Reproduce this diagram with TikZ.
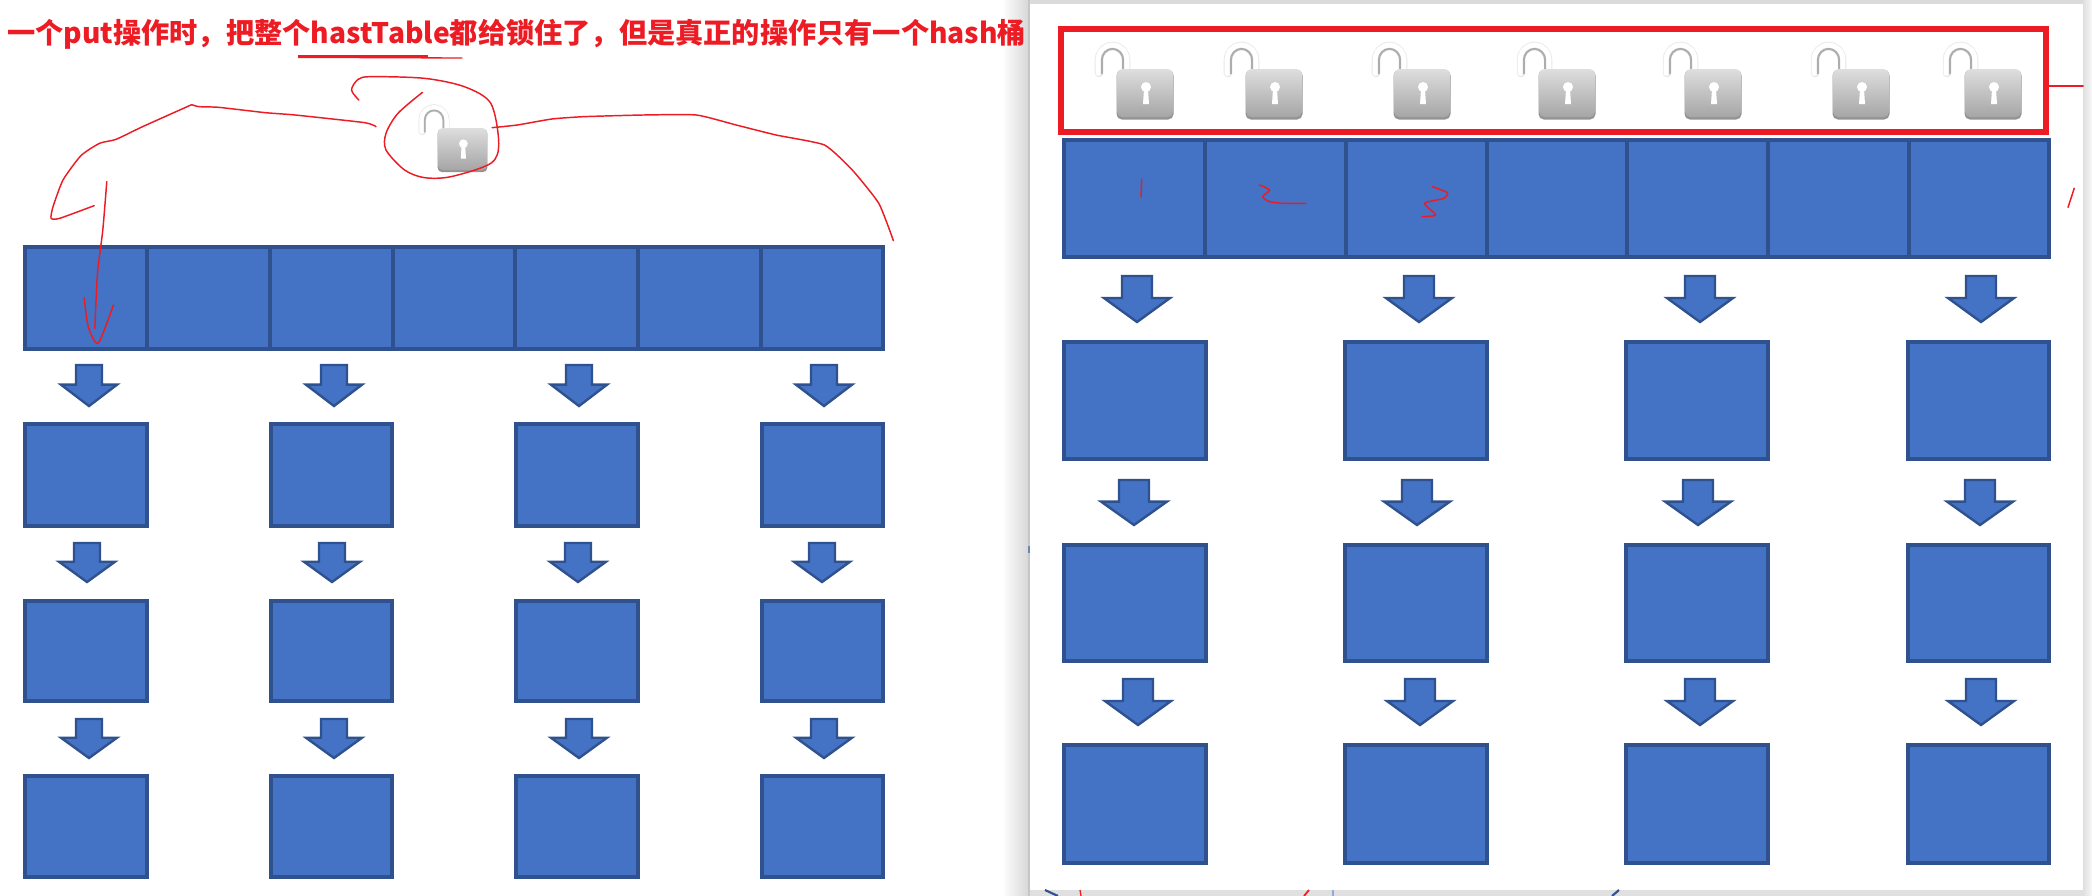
\documentclass[tikz,border=0pt]{standalone}
\usepackage{fontspec}
\newfontfamily\cjk{Noto Sans CJK SC}
\definecolor{boxblue}{HTML}{4472C4}
\definecolor{boxedge}{HTML}{2F528F}
\definecolor{inkred}{HTML}{ED1C24}
\definecolor{paleblue}{HTML}{8FAADC}
\tikzset{
  blockbox/.style={fill=boxblue,draw=boxedge,line width=2.3pt},
  scribble/.style={draw=inkred,line width=1.1pt,line join=round,line cap=round},
}
% block arrow: centre x, top y, tip y, head half width, shaft half width
\newcommand{\blockarrow}[5]{%
  \pgfmathsetmacro{\shoulder}{#2+0.47*(#3-#2)}%
  \draw[blockbox,line width=1.8pt,line join=miter] ({#1-#5},#2+1) -- ({#1+#5},#2+1) -- ({#1+#5},\shoulder) -- ({#1+#4},\shoulder) -- (#1,#3-2) -- ({#1-#4},\shoulder) -- ({#1-#5},\shoulder) -- cycle;}
% padlock: body left, body top, scale
\newcommand{\padlock}[3]{%
  \begin{scope}[shift={(#1,#2)},scale=#3]
    \draw[black!9,line width=#3*6.4pt,line cap=round] (-18,4) -- (-18,-9) arc[start angle=180,end angle=0,x radius=13.5,y radius=-14] -- (9,3);
    \draw[white,line width=#3*4.4pt,line cap=round] (-18.5,4) -- (-18.5,-9) arc[start angle=180,end angle=0,x radius=14,y radius=-14.5] -- (9.5,3);
    \draw[black!32,line width=#3*1.5pt] (-15.2,5) -- (-15.2,-9) arc[start angle=180,end angle=0,x radius=10.7,y radius=-11.2] -- (6.2,3);
    \fill[black!42,rounded corners=#3*4pt] (-0.5,1) rectangle (56.5,50.5);
    \shade[top color=black!13,bottom color=black!35,rounded corners=#3*4pt] (0,0) rectangle (56,48);
    \fill[white] (29,18) circle[radius=5];
    \fill[white] (27,20) -- (31,20) -- (32,35) -- (26,35) -- cycle;
  \end{scope}}
\begin{document}
\begin{tikzpicture}[x=0.75pt,y=-0.75pt]
\useasboundingbox (0,0) rectangle (2092,896);
\fill[white] (0,0) rectangle (2092,896);

% ---- left structure
\draw[blockbox] (25,247) rectangle (883,349);
\foreach \x in {147,270,393,515,638,761} \draw[boxedge,line width=2.3pt] (\x,247) -- (\x,349);
\foreach \a/\b in {25/147,271/392,516/638,762/883}
  \foreach \t/\u in {424/526,601/701,776/877}
    \draw[blockbox] (\a,\t) rectangle (\b,\u);
\foreach \c in {89,334,579,824} \blockarrow{\c}{364}{408}{28}{13};
\foreach \c in {87,332,578,822} \blockarrow{\c}{542}{584}{28}{13};
\foreach \c in {89,334,579,824} \blockarrow{\c}{718}{760}{28}{13};
\padlock{438}{128}{0.875}

% ---- left hand-drawn ink (zoom coordinates)
\begin{scope}[xscale=0.66326,yscale=0.33333]
  \draw[scribble] plot[smooth,tension=0.35] coordinates {(142,617) (90,655) (77,655) (80,620) (95,540) (122,467) (150,430) (175,418) (215,380) (289,314)};
  \draw[scribble] plot[smooth,tension=0.3] coordinates {(289,314) (300,320) (330,322) (400,338) (445,345) (550,368) (567,380)};
  \draw[scribble] plot[smooth,tension=0.3] coordinates {(742,383) (780,375) (832,357) (880,350) (970,345) (1050,345) (1110,375) (1170,405) (1243,435) (1285,510) (1325,610) (1347,722)};
  \draw[scribble] plot[smooth,tension=0.5] coordinates {(541,300) (530,270) (540,238) (560,230) (640,235) (700,260) (740,310) (752,430) (740,490) (680,530) (640,533) (610,510) (582,450) (582,400) (600,340) (637,277)};
  \draw[scribble] plot[smooth,tension=0.4] coordinates {(161,545) (155,690) (147,820) (143,985)};
  \draw[scribble] plot[smooth,tension=0.4] coordinates {(127,893) (133,980) (148,1030) (171,915)};
  \draw[inkred,line width=2.6pt] (450,170) -- (645,170);
  \draw[inkred,line width=1pt] (450,172) -- (697,174);
\end{scope}

% ---- backdrop round the right panel
\shade[left color=white,right color=gray!32] (1002,0) rectangle (1029,896);
\fill[gray!45] (1028,0) rectangle (1030,896);
\fill[gray!28] (1030,0) rectangle (2092,4);
\fill[gray!24] (1030,890) rectangle (2092,896);
\shade[left color=gray!25,right color=gray!5] (2083,0) rectangle (2092,896);
\fill[white] (1030,4) rectangle (2083,890);

% ---- what shows of the window behind the panel
\draw[boxedge,line width=1.6pt] (1045,890) -- (1058,896);
\draw[inkred,line width=1pt] (1080,890) -- (1081,896);
\draw[inkred,line width=1.3pt] (1304,896) -- (1309,890);
\draw[paleblue,line width=0.8pt] (1333,890) -- (1333,896);
\draw[boxedge,line width=1.6pt] (1612,896) -- (1619,890);
\draw[boxedge!70,line width=1pt] (1029,546) -- (1029,553);

% ---- right structure
\draw[blockbox] (1064,140) rectangle (2049,257);
\foreach \x in {1205,1346,1487,1627,1768,1909} \draw[boxedge,line width=2.3pt] (\x,140) -- (\x,257);
\foreach \a/\b in {1064/1206,1345/1487,1626/1768,1908/2049}
  \foreach \t/\u in {342/459,545/661,745/863}
    \draw[blockbox] (\a,\t) rectangle (\b,\u);
\foreach \c in {1137,1419,1700,1981} \blockarrow{\c}{275}{324}{33}{15};
\foreach \c in {1134,1417,1698,1980} \blockarrow{\c}{479}{527}{33}{15};
\foreach \c in {1138,1420,1700,1981} \blockarrow{\c}{678}{727}{33}{15};

\foreach \x in {1117,1246,1394,1539,1685,1833,1965} \padlock{\x}{69}{1};
\draw[inkred,line width=4.2pt] (1061,29) rectangle (2046,132);

% ---- right hand-drawn ink (zoom coordinates)
\begin{scope}[shift={(1020,0)},xscale=0.68366,yscale=0.33333]
  \draw[scribble] (178,537) -- (177,590);
  \draw[scribble] plot[smooth,tension=0.4] coordinates {(350,555) (365,570) (355,590) (365,605) (385,610) (418,610)};
  \draw[scribble] plot[smooth,tension=0.4] coordinates {(603,560) (625,578) (620,595) (592,610) (608,645) (588,650)};
  \draw[scribble] (1505,258) -- (1555,258);
  \draw[scribble] (1542,565) -- (1533,622);
\end{scope}

\node[anchor=west,inner sep=0pt,text=inkred] (headline) at (7,34)
  {\resizebox{764pt}{!}{\cjk\bfseries 一个put操作时，把整个hastTable都给锁住了，但是真正的操作只有一个hash桶}};
\end{tikzpicture}
\end{document}
